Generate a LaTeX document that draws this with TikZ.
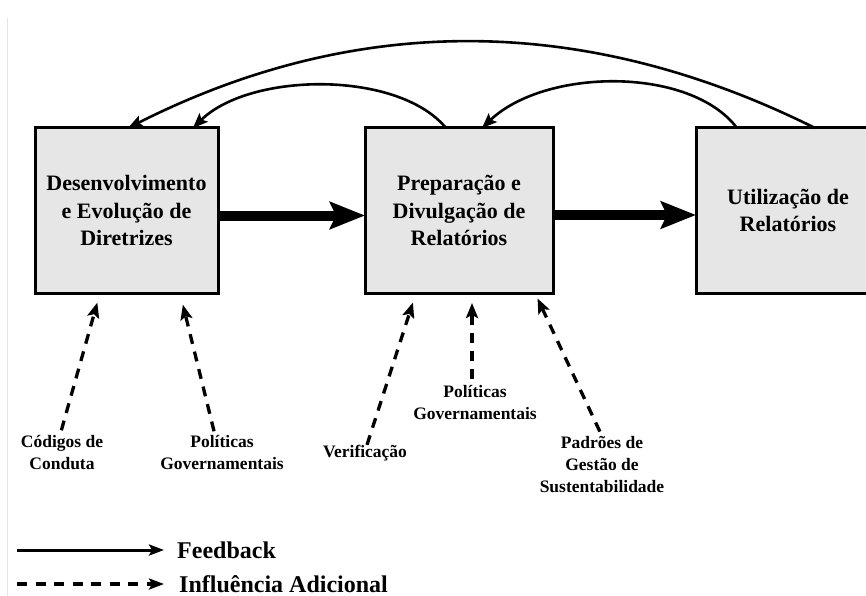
\documentclass[tikz,border=0pt]{standalone}
\usepackage{fontspec}
\setmainfont{Liberation Serif}
\usetikzlibrary{arrows.meta}
\definecolor{boxgray}{HTML}{E6E6E6}
\definecolor{edgegray}{HTML}{E4E4E4}

\begin{document}
\begin{tikzpicture}[x=1pt,y=-1pt,
  stagebox/.style={draw=black, line width=3pt, fill=boxgray, outer sep=0pt,
    minimum height=165pt, inner sep=0pt, align=center,
    font=\fontsize{22}{27.5}\selectfont\bfseries},
  srclabel/.style={align=center, inner sep=0pt,
    font=\fontsize{17.5}{22}\selectfont\bfseries},
  legendtext/.style={anchor=west, inner sep=0pt,
    font=\fontsize{24}{26}\selectfont\bfseries},
  flow/.style={line width=10pt,
    -{Stealth[length=35pt,width=27pt,inset=6pt]}},
  feedback/.style={line width=2.6pt,
    -{Stealth[length=15pt,width=12pt,inset=3pt]}},
  influence/.style={line width=3.3pt, dash pattern=on 10pt off 8pt,
    -{Stealth[length=15pt,width=12pt,inset=3pt]}},
]
\clip (0,0) rectangle (866,596);
\fill[white] (0,0) rectangle (866,596);

% faint rule along the left edge
\draw[edgegray, line width=1pt] (7,18) -- (7,596);

% the three stages
\node[stagebox, minimum width=183pt] (dev)  at (126.5,210.5)
  {\raisebox{-3pt}{\parbox{180pt}{\centering Desenvolvimento\\e Evolução de\\Diretrizes}}};
\node[stagebox, minimum width=188pt] (prep) at (459,210.5)
  {\raisebox{-3pt}{\parbox{185pt}{\centering Preparação e\\Divulgação de\\Relatórios}}};
\node[stagebox, minimum width=184pt] (util) at (788,210.5)
  {\raisebox{-3pt}{\parbox{180pt}{\centering Utilização de\\Relatórios}}};

% main flow
\draw[flow] ([yshift=-5pt]dev.east) -- ([yshift=-5pt]prep.west);
\draw[flow] ([yshift=-4.5pt]prep.east) -- ([yshift=-4.5pt]util.west);

% feedback loops over the top
\draw[feedback] ([xshift=119pt]util.north west)
  .. controls (584,13) and (356,13) .. ([xshift=93pt]dev.north west);
\draw[feedback] ([xshift=81pt]prep.north west)
  .. controls (398,70) and (250,72) .. ([xshift=158pt]dev.north west);
\draw[feedback] ([xshift=41pt]util.north west)
  .. controls (690,66) and (545,68) .. ([xshift=117pt]prep.north west);

% additional influences
\node[srclabel] (cod)  at (62,452.5)  {Códigos de\\Conduta};
\node[srclabel] (polA) at (222,452.5) {Políticas\\Governamentais};
\node[srclabel] (ver)  at (365,453)   {Verificação};
\node[srclabel] (polB) at (475,403)   {Políticas\\Governamentais};
\node[srclabel] (pad)  at (602,464.5) {Padrões de\\Gestão de\\Sustentabilidade};

\draw[influence, shorten <=5pt, shorten >=10pt]
  ([xshift=-2pt]cod.north) -- ([xshift=65pt]dev.south west);
\draw[influence, shorten <=4pt, shorten >=12pt]
  ([xshift=-7pt]polA.north) -- ([xshift=145pt]dev.south west);
\draw[influence, shorten <=0pt, shorten >=10pt]
  ([xshift=2pt]ver.north) -- ([xshift=51pt]prep.south west);
\draw[influence, shorten <=7pt, shorten >=10pt]
  ([xshift=-3pt]polB.north) -- ([xshift=107pt]prep.south west);
\draw[influence, shorten <=5pt, shorten >=6pt]
  (pad.north) -- ([xshift=170pt]prep.south west);

% legend
\node[legendtext] (lgfb)  at (177,550) {Feedback};
\node[legendtext] (lgadd) at (179,584) {Influência Adicional};
\coordinate (lgfbstart)  at (17,550);
\coordinate (lgaddstart) at (17,584);
\draw[line width=3pt, -{Stealth[length=15pt,width=11pt,inset=3pt]},
  shorten >=13pt] (lgfbstart) -- (lgfb.west);
\draw[line width=3.6pt, dash pattern=on 10pt off 8.5pt,
  -{Stealth[length=15pt,width=11pt,inset=3pt]},
  shorten >=15pt] (lgaddstart) -- (lgadd.west);
\end{tikzpicture}
\end{document}
